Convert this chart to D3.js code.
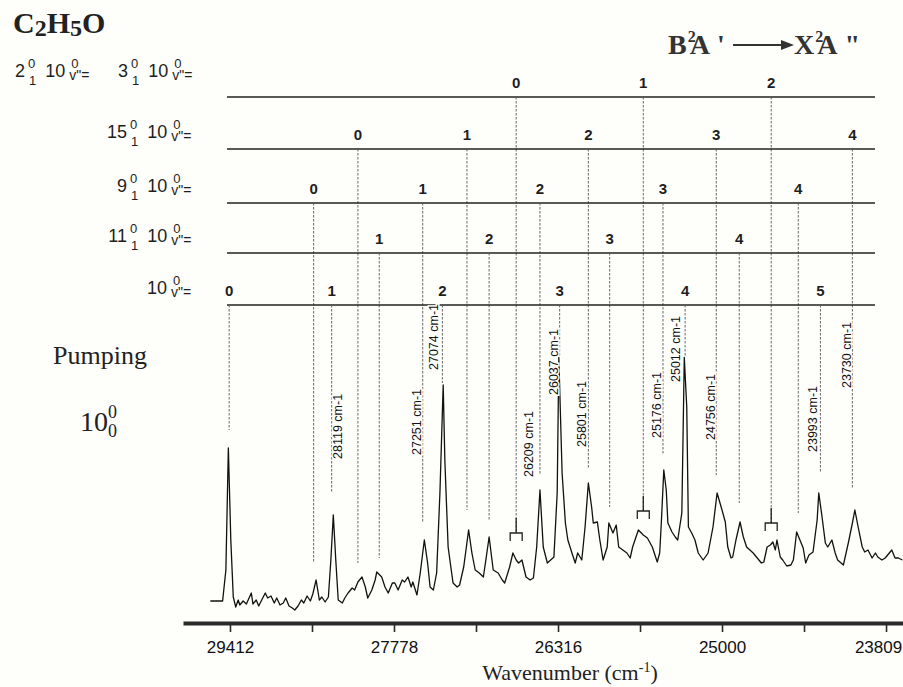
<!DOCTYPE html>
<html>
<head>
<meta charset="utf-8">
<script src="https://cdn.jsdelivr.net/npm/d3@7"></script>
<style>
  body { margin: 0; background: #fefefb; }
  svg { display: block; }
  .lbl { font-family: Arial, "Liberation Sans", sans-serif; font-size: 18px; fill: #1e1e1e; }
  .num { font-family: Arial, "Liberation Sans", sans-serif; font-size: 15px; font-weight: bold; fill: #1e1e1e; }
  .peak { font-family: Arial, "Liberation Sans", sans-serif; font-size: 12.5px; fill: #111; }
  .serif { font-family: "Liberation Serif", "Times New Roman", serif; fill: #222; }
</style>
</head>
<body>
<svg id="chart"></svg>
<script>
// spectrum: [axis position in nm, intensity in arbitrary units]
var spectrum = [
  [337.6, 3.6], [339.1, 3.6], [339.5, 16], [339.8, 64.8], [340.1, 28], [340.4, 5.2], [340.7, 1.2],
  [341.0, 4], [341.2, 2], [341.6, 3.6], [342.0, 2.4], [342.6, 6.8], [342.8, 2.4], [343.2, 4],
  [343.5, 1.6], [344.3, 6.8], [344.6, 4.8], [345.0, 5.6], [345.4, 2.8], [345.7, 4.8], [346.1, 2],
  [346.5, 2.8], [346.8, 4.8], [347.2, 1.6], [347.6, 0.8], [347.9, 0], [348.3, 1.6], [348.7, 4],
  [349.0, 2.8], [349.4, 5.6], [349.8, 3.6], [350.1, 6.4], [350.5, 12], [350.9, 4], [351.2, 5.2],
  [351.6, 3.2], [352.0, 5.2], [352.3, 20], [352.6, 38], [352.9, 20], [353.2, 4], [353.7, 2.8],
  [354.0, 4.8], [354.4, 6.8], [354.9, 8.8], [355.2, 8], [355.6, 11.2], [356.1, 13.2], [356.5, 9.2],
  [356.8, 4.8], [357.3, 8], [357.7, 12], [357.9, 15.2], [358.5, 13.2], [358.9, 9.2], [359.3, 6.8],
  [359.8, 10.8], [360.1, 10.8], [360.5, 8], [361.0, 12], [361.3, 11.2], [361.7, 13.2], [362.1, 9.2],
  [362.3, 11.2], [362.8, 6], [363.2, 14.8], [363.7, 28], [364.1, 18.8], [364.4, 9.2], [364.8, 8],
  [365.2, 14.8], [365.6, 46.8], [366.0, 90], [366.2, 60], [366.6, 25.2], [367.2, 10.8], [367.7, 9.2],
  [368.0, 10], [368.5, 17.2], [369.1, 32], [369.5, 22.8], [369.9, 16], [370.4, 14.8], [370.9, 13.2],
  [371.2, 20], [371.6, 29.2], [372.1, 16], [372.7, 14.8], [373.2, 12], [373.5, 10.8], [374.1, 17.2],
  [374.5, 22.8], [374.9, 20], [375.2, 18.8], [375.6, 20], [376.1, 13.2], [376.6, 12], [377.0, 12.8],
  [377.4, 25.2], [377.8, 48], [378.2, 25.2], [378.7, 18.8], [379.1, 20], [379.5, 21.2], [379.9, 46.8],
  [380.1, 101], [380.5, 54.8], [380.9, 34.8], [381.2, 28], [381.7, 22.8], [382.1, 18.8], [382.4, 22.8],
  [382.9, 20], [383.3, 33.2], [383.7, 50.8], [384.1, 41.2], [384.3, 34.8], [384.8, 35.2], [385.1, 28],
  [385.5, 20], [386.0, 25.2], [386.2, 34.8], [386.7, 30.8], [387.1, 34], [387.4, 25.2], [387.9, 24],
  [388.4, 22.8], [388.8, 20.8], [389.1, 25.2], [389.8, 32], [390.4, 30], [390.9, 28.8], [391.5, 25.2],
  [392.1, 19.2], [392.4, 22.8], [392.6, 35], [392.9, 56], [393.2, 48], [393.4, 34.8], [393.9, 31.2],
  [394.3, 29.2], [394.6, 28], [395.1, 38.8], [395.4, 101], [395.7, 81.2], [395.9, 33.2], [396.3, 30.8],
  [396.7, 28], [397.1, 22.8], [397.7, 20], [398.3, 22.8], [398.9, 33.2], [399.4, 46.8], [400.0, 40],
  [400.4, 35.2], [400.7, 25.2], [401.1, 20.8], [401.3, 21.2], [401.7, 28], [402.2, 35.2], [402.6, 29.2],
  [403.0, 25.2], [403.4, 24], [403.8, 22.8], [404.3, 20.8], [404.8, 18.8], [405.1, 19.2], [405.5, 25.2],
  [405.9, 26], [406.2, 27.2], [406.5, 24], [406.7, 28], [407.1, 21.2], [407.4, 20], [407.9, 17.6],
  [408.4, 18], [408.7, 20], [409.1, 31.2], [409.5, 28], [409.9, 24.8], [410.2, 18.8], [410.6, 22],
  [411.1, 23.2], [411.6, 36], [411.8, 46.8], [412.2, 37.2], [412.6, 26.8], [412.9, 25.2], [413.4, 28],
  [413.8, 22.8], [414.1, 20], [414.8, 18], [415.4, 26.8], [415.9, 34.8], [416.2, 40], [416.6, 33.2],
  [417.1, 25.2], [417.4, 23.2], [417.8, 24], [418.3, 20.8], [418.7, 22.8], [419.0, 21.2], [419.5, 20],
  [419.9, 20.8], [420.2, 22], [420.7, 24], [421.1, 20.8], [421.5, 20.8], [422.0, 20]
];

// axis ticks (nm) and their wavenumber labels
var tickNm = [340, 350, 360, 370, 380, 390, 400, 410, 420];
var tickLabels = ["29412", "", "27778", "", "26316", "", "25000", "", "23809"];

// progressions (top to bottom)
var rowModes = [["2", "3"], ["15"], ["9"], ["11"], [""]];
var rowVib = [[0, 1, 2], [0, 1, 2, 3, 4], [0, 1, 2, 3, 4], [1, 2, 3, 4], [0, 1, 2, 3, 4, 5]];
var rowNm = [
  [374.9, 390.4, 406.0],
  [355.6, 368.9, 383.7, 399.3, 415.9],
  [350.2, 363.5, 377.8, 392.8, 409.3],
  [358.2, 371.6, 386.3, 402.1],
  [339.9, 352.4, 365.9, 380.2, 395.5, 412.0]
];
var rowEnd = [
  [30.8, 39.6, 34.8],
  [18.8, 40, 56.8, 54, 48.8],
  [18.8, 35.2, 54, 62, 38.8],
  [20.8, 36, 41.2, 42.8],
  [72, 46.8, 90.8, 101.2, 101.2, 54.8]
];

// labelled bands
var peakLabels = ["28119", "27251", "27074", "26209", "26037", "25801", "25176", "25012", "24756", "23993", "23730"];
var peakLabelNm = [353.7, 363.3, 365.4, 377.0, 380.0, 383.4, 392.6, 394.9, 399.2, 411.6, 415.7];
var peakLabelInt = [60.4, 62, 96, 53.2, 86, 65.2, 68.8, 91.2, 68, 63.2, 88.8];

var screen = { width: 903, height: 687 };
var bg = "#fefefb";
var rowY = [97, 149, 203, 253, 305]; // heights of the progression lines
var rowLeft = 227, rowRight = 875;
var axisY = 623;

var svg = d3.select("#chart")
            .attr("width", screen.width)
            .attr("height", screen.height);

svg.append("rect").attr("width", screen.width).attr("height", screen.height).attr("fill", bg);

var xScale = d3.scaleLinear()
               .domain([334.27, 422.07])
               .range([183, 903]);

var yScale = d3.scaleLinear()
               .domain([0, 100])
               .range([610, 360]);

// progression lines, numbers and drop lines
rowNm.forEach(function(list, r) {
  var g = svg.append("g").classed("row", true);
  g.append("line")
   .attr("x1", rowLeft).attr("x2", rowRight)
   .attr("y1", rowY[r]).attr("y2", rowY[r])
   .attr("stroke", "#222").attr("stroke-width", 1.3);

  g.selectAll("line.drop")
   .data(list)
   .enter()
   .append("line")
   .classed("drop", true)
   .attr("x1", function(d) {return xScale(d);})
   .attr("x2", function(d) {return xScale(d);})
   .attr("y1", rowY[r])
   .attr("y2", function(d, i) {return yScale(rowEnd[r][i]);})
   .attr("stroke", "#555")
   .attr("stroke-width", 0.9)
   .attr("stroke-dasharray", "2.5,1.5");

  g.selectAll("text.num")
   .data(list)
   .enter()
   .append("text")
   .classed("num", true)
   .attr("x", function(d) {return xScale(d);})
   .attr("y", rowY[r] - 9)
   .attr("text-anchor", "middle")
   .text(function(d, i) {return rowVib[r][i];});
});

// brackets under the first progression
svg.append("g")
   .selectAll("path")
   .data(rowNm[0])
   .enter()
   .append("path")
   .attr("d", function(d, i) {
     var x = xScale(d), y = yScale(rowEnd[0][i]);
     return "M" + x + "," + (y - 15) + "V" + y +
            "M" + (x - 6) + "," + (y + 8) + "V" + y + "H" + (x + 6) + "V" + (y + 8);
   })
   .attr("fill", "none")
   .attr("stroke", "#222")
   .attr("stroke-width", 1.3);

// spectrum trace
var line = d3.line()
             .x(function(d) {return xScale(d[0]);})
             .y(function(d) {return yScale(d[1]);});

svg.append("path")
   .datum(spectrum)
   .attr("d", line)
   .attr("fill", "none")
   .attr("stroke", "#111")
   .attr("stroke-width", 1.3)
   .attr("stroke-linejoin", "round");

// band labels
svg.append("g")
   .selectAll("text")
   .data(peakLabels)
   .enter()
   .append("text")
   .classed("peak", true)
   .attr("transform", function(d, i) {
     return "translate(" + xScale(peakLabelNm[i]) + "," + yScale(peakLabelInt[i]) + ") rotate(-90)";
   })
   .attr("stroke", bg)
   .attr("stroke-width", 3)
   .attr("paint-order", "stroke")
   .text(function(d) {return d + " cm-1";});

// x axis
var xAxis = d3.axisBottom(xScale)
              .tickValues(tickNm)
              .tickFormat(function(d, i) {return tickLabels[i];})
              .tickSize(9)
              .tickSizeOuter(0)
              .tickPadding(9);

var ax = svg.append("g")
            .classed("xAxis", true)
            .attr("transform", "translate(0," + axisY + ")")
            .call(xAxis);
ax.select(".domain").attr("stroke", "#2a2a2a").attr("stroke-width", 4);
ax.selectAll(".tick line").attr("stroke", "#2a2a2a").attr("stroke-width", 1.6);
ax.selectAll(".tick text")
  .attr("font-family", "Arial, 'Liberation Sans', sans-serif")
  .attr("font-size", 17)
  .attr("fill", "#111")
  .attr("dx", function(d, i) {return i == tickNm.length - 1 ? -8 : 0;});

var xt = svg.append("text").classed("serif", true)
            .attr("x", 570).attr("y", 680)
            .attr("text-anchor", "middle")
            .attr("font-size", 22);
xt.append("tspan").text("Wavenumber (cm");
xt.append("tspan").attr("font-size", 14).attr("dy", -8).text("-1");
xt.append("tspan").attr("dy", 8).text(")");

// mode labels at the left of each progression
var modeLabel = function(xEnd, y, mode)
{
  var t = svg.append("text").classed("lbl", true).attr("y", y);
  if (mode != "")
  {
    svg.append("text").classed("lbl", true).attr("x", xEnd).attr("y", y).attr("text-anchor", "end").text(mode);
    t.attr("x", xEnd + 3);
    t.append("tspan").attr("font-size", 13).attr("dy", -9).text("0");
    t.append("tspan").attr("font-size", 13).attr("dx", -6.2).attr("dy", 17).text("1");
    t.append("tspan").attr("dx", 9).attr("dy", -8).text("10");
  }
  else
  {
    t.attr("x", xEnd + 20);
    t.append("tspan").text("10");
  }
  t.append("tspan").attr("font-size", 13).attr("dx", 6).attr("dy", -9).text("0");
  t.append("tspan").attr("font-size", 14).attr("dx", -9.2).attr("dy", 12).text("v\"=");
}

rowModes.forEach(function(modes, r) {
  if (r == 0)
  {
    modeLabel(25, 77, modes[0]);
    modeLabel(128, 77, modes[1]);
  }
  else
  {
    modeLabel(127, rowY[r] - 11, modes[0]);
  }
});

// molecule name
var mol = svg.append("text").classed("serif", true)
             .attr("x", 13).attr("y", 33)
             .attr("font-weight", "bold").attr("fill", "#3a3a3a");
mol.append("tspan").attr("font-size", 30).text("C");
mol.append("tspan").attr("font-size", 24).attr("dy", 3).text("2");
mol.append("tspan").attr("font-size", 30).attr("dy", -3).text("H");
mol.append("tspan").attr("font-size", 24).attr("dy", 3).text("5");
mol.append("tspan").attr("font-size", 30).attr("dy", -3).text("O");

// transition title
var term = function(x, letter, prime)
{
  var t = svg.append("text")
             .attr("x", x).attr("y", 54)
             .attr("font-family", "'Liberation Serif', 'Times New Roman', serif")
             .attr("font-weight", "bold").attr("font-size", 28).attr("fill", "#333");
  t.append("tspan").text(letter);
  t.append("tspan").attr("font-size", 16).attr("dx", 1).attr("dy", -12).text("2");
  t.append("tspan").attr("dx", -6).attr("dy", 12).text("A");
  t.append("tspan").attr("dx", prime.length > 1 ? 9 : 7).text(prime);
}
term(668, "B", "'");
term(794, "X", "\"");
svg.append("line").attr("x1", 733).attr("x2", 783).attr("y1", 45).attr("y2", 45)
   .attr("stroke", "#333").attr("stroke-width", 2);
svg.append("path").attr("d", "M781,40L794,45L781,50Z").attr("fill", "#333");

// pumping note
svg.append("text").classed("serif", true).attr("x", 53).attr("y", 364).attr("font-size", 26).text("Pumping");
var pump = svg.append("text").classed("serif", true).attr("x", 80).attr("y", 431).attr("font-size", 28);
pump.append("tspan").text("10");
pump.append("tspan").attr("font-size", 18).attr("dy", -13).text("0");
pump.append("tspan").attr("font-size", 18).attr("dx", -9).attr("dy", 19).text("0");
</script>
</body>
</html>
